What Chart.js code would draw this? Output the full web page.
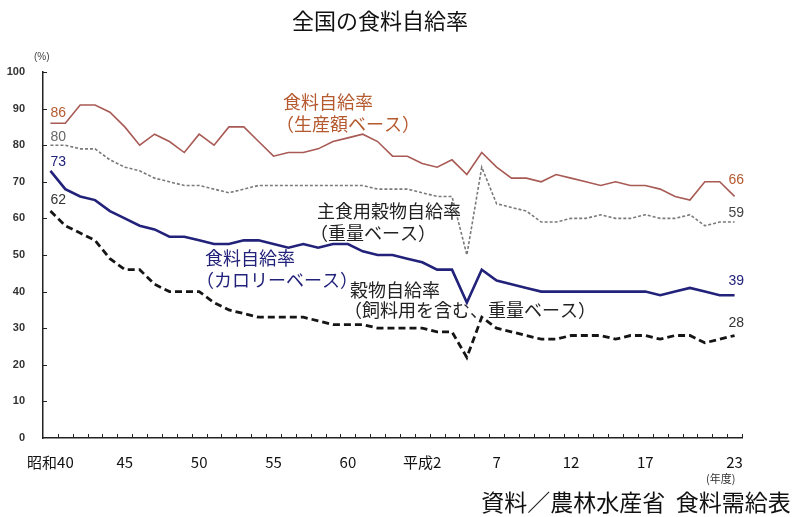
<!DOCTYPE html>
<html>
<head>
<meta charset="utf-8">
<script src="https://cdn.jsdelivr.net/npm/chart.js@4"></script>
<style>
  html, body { margin: 0; padding: 0; background: #fff; }
  #chart { display: block; }
</style>
</head>
<body>
<canvas id="chart" width="807" height="517"></canvas>
<script>
// 年度 (昭和40 = 1965 ... 平成23 = 2011)
const years = [1965, 1966, 1967, 1968, 1969, 1970, 1971, 1972, 1973, 1974,
    1975, 1976, 1977, 1978, 1979, 1980, 1981, 1982, 1983, 1984,
    1985, 1986, 1987, 1988, 1989, 1990, 1991, 1992, 1993, 1994,
    1995, 1996, 1997, 1998, 1999, 2000, 2001, 2002, 2003, 2004,
    2005, 2006, 2007, 2008, 2009, 2010, 2011]

const tickYears = [1965, 1970, 1975, 1980, 1985, 1990, 1995, 2000, 2005, 2011]
const tickText = ['昭和40', '45', '50', '55', '60', '平成2', '7', '12', '17', '23']

// 食料自給率（生産額ベース）
const seisangaku = [86, 86, 91, 91, 89, 85, 80, 83, 81, 78,
    83, 80, 85, 85, 81, 77, 78, 78, 79, 81,
    82, 83, 81, 77, 77, 75, 74, 76, 72, 78,
    74, 71, 71, 70, 72, 71, 70, 69, 70, 69,
    69, 68, 66, 65, 70, 70, 66]

// 主食用穀物自給率（重量ベース）
const shushoku = [80, 80, 79, 79, 76, 74, 73, 71, 70, 69,
    69, 68, 67, 68, 69, 69, 69, 69, 69, 69,
    69, 69, 68, 68, 68, 67, 66, 66, 50, 74,
    64, 63, 62, 59, 59, 60, 60, 61, 60, 60,
    61, 60, 60, 61, 58, 59, 59]

// 食料自給率（カロリーベース）
const calorie = [73, 68, 66, 65, 62, 60, 58, 57, 55, 55,
    54, 53, 53, 54, 54, 53, 52, 53, 52, 53,
    53, 51, 50, 50, 49, 48, 46, 46, 37, 46,
    43, 42, 41, 40, 40, 40, 40, 40, 40, 40,
    40, 39, 40, 41, 40, 39, 39]

// 穀物自給率（飼料用を含む、重量ベース）
const kokumotsu = [62, 58, 56, 54, 49, 46, 46, 42, 40, 40,
    40, 37, 35, 34, 33, 33, 33, 33, 32, 31,
    31, 31, 30, 30, 30, 30, 29, 29, 22, 33,
    30, 29, 28, 27, 27, 28, 28, 28, 27, 28,
    28, 27, 28, 28, 26, 27, 28]

const numFont = "'Liberation Sans', Arial, sans-serif"
const jpFont = "'Noto Sans CJK JP', 'Liberation Sans', sans-serif"

let cores = {
    seisangaku: '#a85a55',
    seisangakuText: '#b5592f',
    shushoku: '#7a7a7a',
    calorie: '#22227a',
    kokumotsu: '#151515'
}

// 軸の内向き目盛り
const uchiMemori = {
    id: 'uchiMemori',
    afterDraw(chart) {
        const ctx = chart.ctx
        const x = chart.scales.x
        const y = chart.scales.y
        const step = x.getPixelForValue(1) - x.getPixelForValue(0)
        ctx.save()
        ctx.strokeStyle = '#222'
        ctx.lineWidth = 1
        ctx.beginPath()
        for (let i = 0; i < years.length; i++) {
            let px = Math.round(x.getPixelForValue(i) + step / 2) + 0.5
            ctx.moveTo(px, y.bottom)
            ctx.lineTo(px, y.bottom - 4)
        }
        for (let v = 10; v <= 100; v += 10) {
            let py = Math.round(y.getPixelForValue(v)) + 0.5
            ctx.moveTo(x.left, py)
            ctx.lineTo(x.left + 4, py)
        }
        ctx.stroke()
        ctx.restore()
    }
}

// 注記
const chuki = {
    id: 'chuki',
    afterDatasetsDraw(chart) {
        const ctx = chart.ctx
        const x = chart.scales.x
        const y = chart.scales.y
        const last = years.length - 1
        ctx.save()
        ctx.textBaseline = 'middle'
        ctx.textAlign = 'left'

        const put = (t, px, py, font, color) => {
            ctx.font = font
            ctx.fillStyle = color
            ctx.fillText(t, px, py)
        }

        // 始点・終点の値
        const vf = '14px ' + numFont
        const x0 = x.getPixelForValue(0)
        put(String(seisangaku[0]), x0, y.getPixelForValue(seisangaku[0]) - 10, vf, cores.seisangakuText)
        put(String(shushoku[0]), x0, y.getPixelForValue(shushoku[0]) - 8, vf, '#666')
        put(String(calorie[0]), x0, y.getPixelForValue(calorie[0]) - 9, vf, cores.calorie)
        put(String(kokumotsu[0]), x0, y.getPixelForValue(kokumotsu[0]) - 11, vf, '#333')

        const xe = x.getPixelForValue(last) - 6
        put(String(seisangaku[last]), xe, y.getPixelForValue(seisangaku[last]) - 16, vf, cores.seisangakuText)
        put(String(shushoku[last]), xe, y.getPixelForValue(shushoku[last]) - 9, vf, '#444')
        put(String(calorie[last]), xe, y.getPixelForValue(calorie[last]) - 14, vf, cores.calorie)
        put(String(kokumotsu[last]), xe, y.getPixelForValue(kokumotsu[last]) - 12, vf, '#333')

        // 系列名
        const lf = '18px ' + jpFont
        put('食料自給率', 283, 102, lf, cores.seisangakuText)
        put('（生産額ベース）', 276, 124, lf, cores.seisangakuText)
        put('主食用穀物自給率', 317, 211, lf, '#222')
        put('（重量ベース）', 310, 233, lf, '#222')
        put('食料自給率', 205, 258, lf, cores.calorie)
        put('（カロリーベース）', 196, 280, lf, cores.calorie)
        put('穀物自給率', 350, 290, lf, '#222')
        put('（飼料用を含む、重量ベース）', 344, 310, lf, '#222')

        // 単位など
        put('(%)', 34, 57, '10px ' + numFont, '#444')
        put('(年度)', 706, 479, '11px ' + jpFont, '#333')

        ctx.textAlign = 'center'
        put('全国の食料自給率', 380, 21, '22px ' + jpFont, '#111')
        put('資料／農林水産省  食料需給表', 636, 502, '23px ' + jpFont, '#111')
        ctx.restore()
    }
}

const ctx = document.getElementById('chart')

new Chart(ctx, {
    type: 'line',
    data: {
        labels: years,
        datasets: [{
            data: seisangaku,
            borderColor: cores.seisangaku,
            borderWidth: 1.6
        }, {
            data: shushoku,
            borderColor: cores.shushoku,
            borderWidth: 1.6,
            borderDash: [3, 2]
        }, {
            data: calorie,
            borderColor: cores.calorie,
            borderWidth: 2.6
        }, {
            data: kokumotsu,
            borderColor: cores.kokumotsu,
            borderWidth: 2.8,
            borderDash: [7, 4]
        }]
    },
    options: {
        responsive: false,
        animation: false,
        layout: {
            padding: { left: 0, top: 72, right: 65, bottom: 0 }
        },
        elements: {
            point: { radius: 0 },
            line: { tension: 0, fill: false }
        },
        scales: {
            x: {
                type: 'category',
                offset: true,
                grid: { display: false },
                border: { display: true, color: '#222', width: 1.5 },
                afterFit(scale) { scale.height = 79 },
                ticks: {
                    autoSkip: false,
                    maxRotation: 0,
                    padding: 7,
                    color: '#111',
                    font: { family: jpFont, size: 15 },
                    callback(value, index) {
                        let k = tickYears.indexOf(years[index])
                        return k >= 0 ? tickText[k] : ''
                    }
                }
            },
            y: {
                min: 0,
                max: 100,
                grid: { display: false },
                border: { display: true, color: '#222', width: 1.5 },
                afterFit(scale) { scale.width = 43 },
                ticks: {
                    stepSize: 10,
                    padding: 10,
                    color: '#333',
                    font: { family: numFont, size: 11, weight: 'bold' }
                }
            }
        },
        plugins: {
            legend: { display: false },
            tooltip: { enabled: false }
        }
    },
    plugins: [uchiMemori, chuki]
});
</script>
</body>
</html>
